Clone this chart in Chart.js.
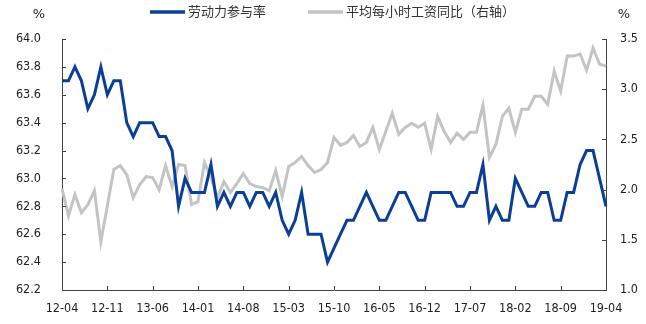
<!DOCTYPE html>
<html>
<head>
<meta charset="utf-8">
<script src="https://cdn.jsdelivr.net/npm/chart.js@4/dist/chart.umd.min.js"></script>
<style>
  html, body { margin: 0; padding: 0; background: #fff; }
  canvas { display: block; }
</style>
</head>
<body>
<canvas id="lfpr-chart" width="646" height="324"></canvas>
<script>
// monthly, 2012-04 .. 2019-04
var startYear = 12, startMonth = 4, monthCount = 85;
var months = [];
for (var i = 0; i < monthCount; i++) {
    var m = (startMonth - 1 + i) % 12 + 1;
    var y = startYear + Math.floor((startMonth - 1 + i) / 12);
    months.push(y + '-' + (m < 10 ? '0' + m : m));
}

var participation = [
    63.7, 63.7, 63.8, 63.7, 63.5, 63.6, 63.8, 63.6, 63.7, 63.7,
    63.4, 63.3, 63.4, 63.4, 63.4, 63.3, 63.3, 63.2, 62.8, 63.0,
    62.9, 62.9, 62.9, 63.1, 62.8, 62.9, 62.8, 62.9, 62.9, 62.8,
    62.9, 62.9, 62.8, 62.9, 62.7, 62.6, 62.7, 62.9, 62.6, 62.6,
    62.6, 62.4, 62.5, 62.6, 62.7, 62.7, 62.8, 62.9, 62.8, 62.7,
    62.7, 62.8, 62.9, 62.9, 62.8, 62.7, 62.7, 62.9, 62.9, 62.9,
    62.9, 62.8, 62.8, 62.9, 62.9, 63.1, 62.7, 62.8, 62.7, 62.7,
    63.0, 62.9, 62.8, 62.8, 62.9, 62.9, 62.7, 62.7, 62.9, 62.9,
    63.1, 63.2, 63.2, 63.0, 62.8
];

var hourlyWageYoY = [
    2.01, 1.74, 1.95, 1.77, 1.85, 1.99, 1.48, 1.84, 2.20, 2.24,
    2.15, 1.92, 2.05, 2.13, 2.12, 2.00, 2.24, 2.03, 2.25, 2.24,
    1.85, 1.88, 2.27, 2.12, 1.92, 2.08, 1.97, 2.06, 2.16, 2.06,
    2.03, 2.02, 1.99, 2.19, 1.93, 2.23, 2.27, 2.33, 2.24, 2.17,
    2.20, 2.27, 2.52, 2.44, 2.47, 2.54, 2.43, 2.47, 2.62, 2.40,
    2.58, 2.76, 2.55, 2.62, 2.66, 2.62, 2.66, 2.40, 2.73, 2.58,
    2.47, 2.56, 2.50, 2.57, 2.57, 2.84, 2.32, 2.45, 2.73, 2.81,
    2.57, 2.80, 2.80, 2.93, 2.93, 2.85, 3.18, 2.98, 3.33, 3.33,
    3.35, 3.19, 3.41, 3.25, 3.23
];

var seriesNames = ['劳动力参与率', '平均每小时工资同比（右轴）'];
var seriesColors = ['#0B3F96', '#C4C4C4'];
var labelStep = 7;

var tickFont = { family: '"DejaVu Sans Condensed", "DejaVu Sans", sans-serif', size: 12.5 };
var cjkFont = '13px "Noto Sans CJK SC", sans-serif';

// inward tick marks, unit labels and the legend row
var decorations = {
    id: 'decorations',
    afterDraw: function (chart) {
        var ctx = chart.ctx;
        var xs = chart.scales.x, yl = chart.scales.y, yr = chart.scales.y1;
        var area = chart.chartArea;
        ctx.save();
        ctx.strokeStyle = '#444';
        ctx.lineWidth = 1;
        ctx.beginPath();
        xs.ticks.forEach(function (t, i) {
            if (i % labelStep !== 0) return;
            var px = Math.round(xs.getPixelForTick(i)) + 0.5;
            ctx.moveTo(px, area.bottom);
            ctx.lineTo(px, area.bottom - 4);
        });
        yl.ticks.forEach(function (t, i) {
            var py = Math.round(yl.getPixelForTick(i)) + 0.5;
            ctx.moveTo(area.left, py);
            ctx.lineTo(area.left + 4, py);
        });
        yr.ticks.forEach(function (t, i) {
            var py = Math.round(yr.getPixelForTick(i)) + 0.5;
            ctx.moveTo(area.right, py);
            ctx.lineTo(area.right - 4, py);
        });
        ctx.stroke();

        ctx.fillStyle = '#222';
        ctx.font = '13px "DejaVu Sans", sans-serif';
        ctx.textBaseline = 'middle';
        ctx.textAlign = 'center';
        ctx.fillText('%', 39, 15);
        ctx.fillText('%', 624, 15);

        // legend
        var legendX = [150, 308];
        ctx.textAlign = 'left';
        ctx.font = cjkFont;
        chart.data.datasets.forEach(function (ds, k) {
            ctx.strokeStyle = ds.borderColor;
            ctx.lineWidth = 3.5;
            ctx.beginPath();
            ctx.moveTo(legendX[k], 12);
            ctx.lineTo(legendX[k] + 35, 12);
            ctx.stroke();
            ctx.fillStyle = '#333';
            ctx.fillText(ds.label, legendX[k] + 38, 11);
        });
        ctx.restore();
    }
};

new Chart(document.getElementById('lfpr-chart'), {
    type: 'line',
    data: {
        labels: months,
        datasets: [
            {
                label: seriesNames[0],
                data: participation,
                yAxisID: 'y',
                borderColor: seriesColors[0],
                borderWidth: 3,
                pointRadius: 0,
                tension: 0,
                order: 1
            },
            {
                label: seriesNames[1],
                data: hourlyWageYoY,
                yAxisID: 'y1',
                borderColor: seriesColors[1],
                borderWidth: 3,
                pointRadius: 0,
                tension: 0,
                order: 2
            }
        ]
    },
    options: {
        responsive: false,
        animation: false,
        devicePixelRatio: 1,
        layout: { padding: { top: 39, left: 0, right: 0, bottom: 0 } },
        plugins: {
            legend: { display: false },
            tooltip: { enabled: false }
        },
        scales: {
            x: {
                offset: false,
                grid: { display: false, drawTicks: false },
                border: { display: true, color: '#444', width: 1 },
                ticks: {
                    autoSkip: false,
                    maxRotation: 0,
                    padding: 11,
                    color: '#222',
                    font: tickFont,
                    callback: function (val, i) {
                        return i % labelStep === 0 ? this.getLabelForValue(val) : '';
                    }
                },
                afterFit: function (scale) { scale.height = 34; }
            },
            y: {
                position: 'left',
                min: 62.2,
                max: 64.0,
                grid: { display: false, drawTicks: false },
                border: { display: true, color: '#444', width: 1 },
                ticks: {
                    stepSize: 0.2,
                    padding: 21,
                    color: '#222',
                    font: tickFont,
                    callback: function (v) { return v.toFixed(1); }
                },
                afterFit: function (scale) { scale.width = 62; }
            },
            y1: {
                position: 'right',
                min: 1.0,
                max: 3.5,
                grid: { display: false, drawTicks: false },
                border: { display: true, color: '#444', width: 1 },
                ticks: {
                    stepSize: 0.5,
                    padding: 14,
                    color: '#222',
                    font: tickFont,
                    callback: function (v) { return v.toFixed(1); }
                },
                afterFit: function (scale) { scale.width = 40; }
            }
        }
    },
    plugins: [decorations]
});
</script>
</body>
</html>
